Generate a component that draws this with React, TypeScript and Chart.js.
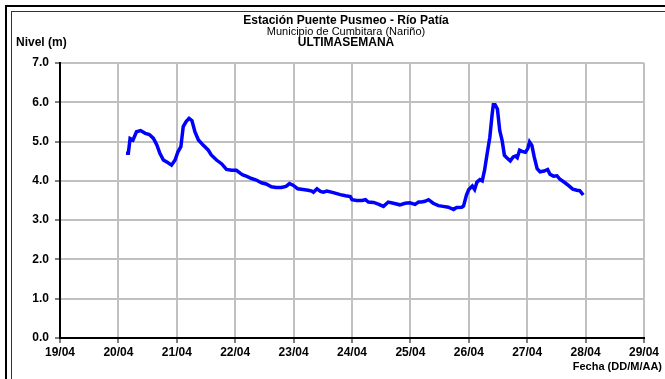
import React, { useEffect, useRef } from "react";
import { Chart, registerables } from "chart.js";

Chart.register(...registerables);

// Day of April (decimal) and water level (m)
const days = [
  20.13, 20.17, 20.2, 20.25, 20.31, 20.38, 20.46, 20.53, 20.6, 20.66, 20.71, 20.77, 20.85, 20.91, 20.97,
  21.02, 21.07, 21.11, 21.16, 21.21, 21.26, 21.31, 21.37, 21.45, 21.54, 21.59, 21.68, 21.77, 21.85, 21.94,
  22.02, 22.09, 22.13, 22.19, 22.28, 22.36, 22.45, 22.53, 22.62, 22.7, 22.79, 22.87, 22.93, 22.99,
  23.07, 23.16, 23.25, 23.31, 23.34, 23.4, 23.46, 23.51, 23.57, 23.68, 23.8, 23.89, 23.97,
  24.0, 24.08, 24.17, 24.23, 24.28, 24.37, 24.45, 24.54, 24.62, 24.71, 24.82, 24.91, 24.99,
  25.08, 25.14, 25.19, 25.25, 25.31, 25.39, 25.48, 25.56, 25.65, 25.74, 25.79, 25.88, 25.91, 25.96,
  26.0, 26.06, 26.1, 26.14, 26.19, 26.23, 26.27, 26.31, 26.36, 26.4, 26.42, 26.45, 26.49, 26.53, 26.57,
  26.61, 26.65, 26.71, 26.76, 26.8, 26.83, 26.87, 26.91, 26.97,
  27.01, 27.04, 27.08, 27.12, 27.17, 27.22, 27.29, 27.35, 27.39, 27.45, 27.51, 27.56, 27.63, 27.7,
  27.78, 27.85, 27.9, 27.96,
];

const levels = [
  4.7, 4.7, 5.08, 5.04, 5.25, 5.28, 5.21, 5.18, 5.08, 4.91, 4.7, 4.53, 4.46, 4.4, 4.53,
  4.74, 4.87, 5.38, 5.51, 5.59, 5.53, 5.25, 5.04, 4.91, 4.78, 4.66, 4.53, 4.43, 4.29, 4.27,
  4.27, 4.19, 4.15, 4.12, 4.06, 4.02, 3.95, 3.92, 3.85, 3.83, 3.83, 3.86, 3.93, 3.89,
  3.8, 3.78, 3.76, 3.74, 3.71, 3.8, 3.73, 3.71, 3.74, 3.7, 3.65, 3.62, 3.6,
  3.52, 3.5, 3.5, 3.52, 3.46, 3.45, 3.41, 3.35, 3.46, 3.43, 3.39, 3.43, 3.44,
  3.4, 3.46, 3.46, 3.48, 3.52, 3.43, 3.37, 3.35, 3.33, 3.27, 3.32, 3.33, 3.36, 3.64,
  3.78, 3.87, 3.78, 3.97, 4.03, 4.0, 4.27, 4.65, 5.11, 5.7, 5.94, 5.94, 5.83, 5.28, 5.03,
  4.65, 4.59, 4.51, 4.61, 4.63, 4.59, 4.78, 4.75, 4.73,
  4.82, 4.99, 4.9, 4.61, 4.31, 4.23, 4.25, 4.29, 4.17, 4.12, 4.13, 4.04, 3.97, 3.89,
  3.79, 3.76, 3.75, 3.64,
];

const xMin = 19;
const xMax = 29;
const yMin = 0;
const yMax = 7;
const monthLabel = "04";

const titleLines = [
  "Estación Puente Pusmeo - Río Patía",
  "Municipio de Cumbitara (Nariño)",
  "ULTIMASEMANA",
];
const yAxisTitle = "Nivel (m)";
const xAxisTitle = "Fecha (DD/M/AA)";

const FONT = '"Liberation Sans", Arial, sans-serif';

export default function App() {
  const ref = useRef<HTMLCanvasElement | null>(null);

  useEffect(() => {
    const canvas = ref.current;
    if (!canvas) return;

    const decor = {
      id: "decor",
      beforeDraw(chart: any) {
        const ctx = chart.ctx;
        ctx.save();
        ctx.fillStyle = "#ffffff";
        ctx.fillRect(0, 0, chart.width, chart.height);
        ctx.restore();
      },
      afterDraw(chart: any) {
        const ctx = chart.ctx;
        ctx.save();
        // double frame
        ctx.fillStyle = "#000000";
        ctx.fillRect(5, 5, chart.width, 2);
        ctx.fillRect(5, 5, 2, chart.height);
        ctx.fillStyle = "#333333";
        ctx.fillRect(11, 11, chart.width, 1);
        ctx.fillRect(11, 11, 1, chart.height);

        ctx.fillStyle = "#000000";
        ctx.textBaseline = "middle";
        ctx.textAlign = "center";
        ctx.font = `bold 12px ${FONT}`;
        ctx.fillText(titleLines[0], 346, 21);
        ctx.font = `11px ${FONT}`;
        ctx.fillText(titleLines[1], 346, 31.5);
        ctx.font = `bold 12px ${FONT}`;
        ctx.fillText(titleLines[2], 346, 42.5);

        ctx.textAlign = "left";
        ctx.fillText(yAxisTitle, 16, 42.5);
        ctx.textAlign = "right";
        ctx.font = `bold 11px ${FONT}`;
        ctx.fillText(xAxisTitle, 662, 367);
        ctx.restore();
      },
    };

    const chart = new Chart(canvas, {
      type: "line",
      data: {
        datasets: [
          {
            data: days.map((d, i) => ({ x: d, y: levels[i] })),
            borderColor: "#0000ff",
            borderWidth: 3.5,
            pointRadius: 0,
            tension: 0,
            fill: false,
          },
        ],
      },
      options: {
        responsive: false,
        animation: false,
        devicePixelRatio: 1,
        layout: { padding: { left: 0, top: 63, right: 21, bottom: 0 } },
        plugins: {
          legend: { display: false },
          title: { display: false },
          tooltip: { enabled: false },
        },
        scales: {
          x: {
            type: "linear",
            min: xMin,
            max: xMax,
            afterFit(scale: any) {
              scale.height = 41;
            },
            ticks: {
              stepSize: 1,
              autoSkip: false,
              maxRotation: 0,
              color: "#000",
              padding: 2,
              font: { family: FONT, size: 12, weight: "bold" },
              callback: (v: any) => `${String(v).padStart(2, "0")}/${monthLabel}`,
            },
            grid: {
              color: "#c0c0c0",
              lineWidth: 2,
              tickColor: "#000",
              tickWidth: 1,
              tickLength: 5,
            },
            border: { color: "#000", width: 2 },
          },
          y: {
            type: "linear",
            min: yMin,
            max: yMax,
            afterFit(scale: any) {
              scale.width = 60;
            },
            ticks: {
              stepSize: 1,
              color: "#000",
              padding: 6,
              font: { family: FONT, size: 12, weight: "bold" },
              callback: (v: any) => Number(v).toFixed(1),
            },
            grid: {
              color: "#c0c0c0",
              lineWidth: 2,
              tickColor: "#000",
              tickWidth: 1,
              tickLength: 5,
            },
            border: { color: "#000", width: 2 },
          },
        },
      },
      plugins: [decor],
    });

    return () => chart.destroy();
  }, []);

  return (
    <canvas
      ref={ref}
      width={665}
      height={379}
      style={{ position: "fixed", left: 0, top: 0, width: 665, height: 379, display: "block" }}
    />
  );
}
